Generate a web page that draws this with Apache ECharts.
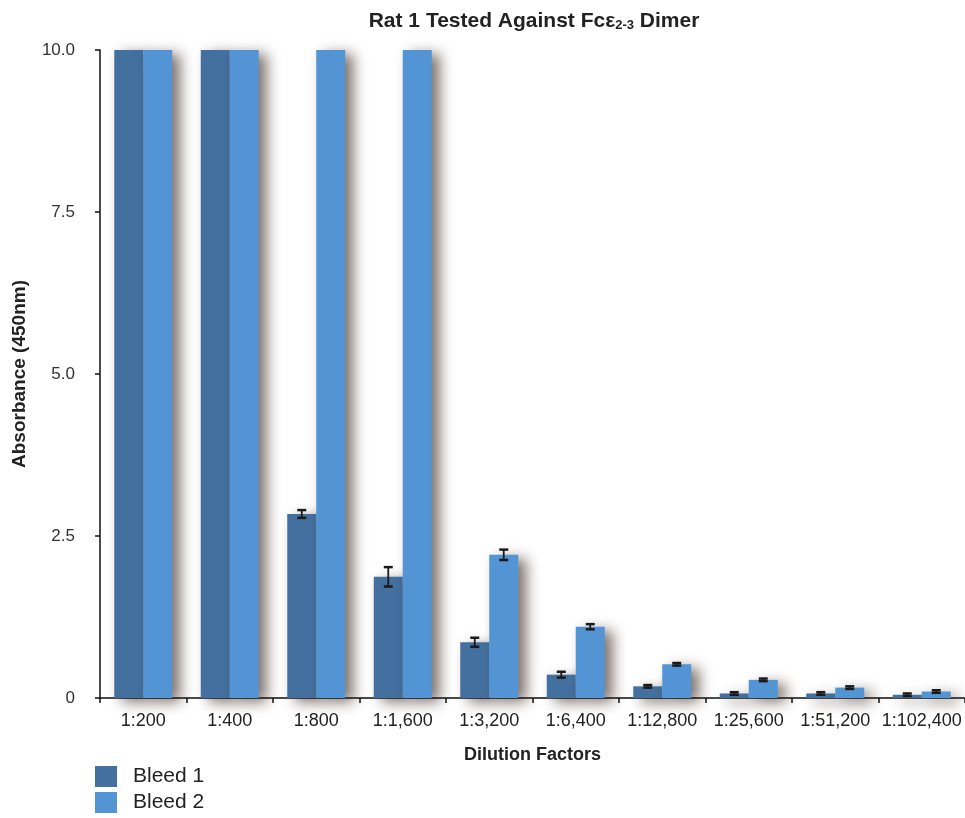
<!DOCTYPE html>
<html>
<head>
<meta charset="utf-8">
<script src="https://cdn.jsdelivr.net/npm/echarts@6/dist/echarts.min.js"></script>
<style>html,body{margin:0;padding:0;background:#fff}#c{width:965px;height:818px}</style>
</head>
<body>
<div id="c"></div>
<script>
var categories = ['1:200','1:400','1:800','1:1,600','1:3,200','1:6,400','1:12,800','1:25,600','1:51,200','1:102,400'];
var bleed1 = [10, 10, 2.84, 1.87, 0.86, 0.36, 0.18, 0.07, 0.07, 0.05];
var bleed2 = [10, 10, 10, 10, 2.21, 1.10, 0.52, 0.28, 0.16, 0.10];
var err1 = [0, 0, 0.06, 0.15, 0.07, 0.045, 0.02, 0.02, 0.02, 0.02];
var err2 = [0, 0, 0, 0, 0.08, 0.04, 0.02, 0.02, 0.02, 0.02];
var yTicks = [0, 2.5, 5, 7.5, 10];

var FONT = 'Liberation Sans, Arial, Helvetica, sans-serif';
var C1 = '#43709f', C2 = '#5294d4';
var GAP = 0.33;

function errSeries(vals, errs, side) {
  return {
    type: 'custom',
    z: 10,
    silent: true,
    data: vals.map(function (v, i) { return [i, v, errs[i]]; }),
    renderItem: function (params, api) {
      var i = api.value(0), v = api.value(1), e = api.value(2);
      if (!e) return null;
      var band = api.size([1, 0])[0];
      var bw = band * (1 - GAP) / 2;
      var c = api.coord([i, v]);
      var x = c[0] + side * bw / 2;
      var top = api.coord([i, v + e])[1];
      var bot = api.coord([i, v - e])[1];
      var hw = 4.5;
      var st = { stroke: '#1a1a1a', lineWidth: 2.5 };
      return { type: 'group', children: [
        { type: 'line', shape: { x1: x, y1: top, x2: x, y2: bot }, style: { stroke: '#1a1a1a', lineWidth: 1.8 } },
        { type: 'line', shape: { x1: x - hw, y1: top, x2: x + hw, y2: top }, style: st },
        { type: 'line', shape: { x1: x - hw, y1: bot, x2: x + hw, y2: bot }, style: st }
      ]};
    }
  };
}

var shadow = { shadowColor: 'rgba(40,20,10,0.6)', shadowBlur: 14, shadowOffsetX: 8, shadowOffsetY: 4 };

var chart = echarts.init(document.getElementById('c'));
chart.setOption({
  animation: false,
  textStyle: { fontFamily: FONT },
  title: {
    text: 'Rat 1 Tested Against Fc\u03b5{sub|2-3} Dimer',
    left: 529, top: 6, textAlign: 'center',
    textStyle: {
      fontFamily: FONT, fontSize: 21, fontWeight: 'bold', color: '#222',
      rich: { sub: { fontFamily: FONT, fontSize: 13, fontWeight: 'bold', color: '#222', verticalAlign: 'bottom', padding: [8, 0, 0, 0] } }
    }
  },
  legend: {
    orient: 'vertical', left: 95, top: 766, padding: 0, itemWidth: 22, itemHeight: 21, itemGap: 5,
    icon: 'rect',
    textStyle: { fontFamily: FONT, fontSize: 21, lineHeight: 21, color: '#222', padding: [0, 0, 0, 11] },
    data: ['Bleed 1', 'Bleed 2']
  },
  grid: { left: 100, right: 0, top: 50, bottom: 120, containLabel: false },
  xAxis: {
    type: 'category', data: categories,
    name: 'Dilution Factors', nameLocation: 'middle', nameGap: 48,
    nameTextStyle: { fontFamily: FONT, fontSize: 18, fontWeight: 'bold', color: '#222' },
    axisLine: { lineStyle: { color: '#111', width: 1.5 } },
    axisTick: { show: true, alignWithLabel: false, length: 5, lineStyle: { color: '#111', width: 1.5 } },
    axisLabel: { fontFamily: FONT, fontSize: 18, color: '#222', margin: 14, interval: 0 }
  },
  yAxis: {
    type: 'value', min: 0, max: 10, interval: 2.5,
    name: 'Absorbance (450nm)', nameLocation: 'middle', nameGap: 71,
    nameTextStyle: { fontFamily: FONT, fontSize: 19, fontWeight: 'bold', color: '#222' },
    axisLine: { show: true, lineStyle: { color: '#111', width: 1.5 } },
    axisTick: { show: true, length: 5, lineStyle: { color: '#111', width: 1.5 } },
    splitLine: { show: false },
    axisLabel: { fontFamily: FONT, fontSize: 17, color: '#333', margin: 25,
      formatter: function (v) { return v === 0 ? '0' : v.toFixed(1); } }
  },
  series: [
    { name: 'Bleed 1', type: 'bar', data: bleed1, barGap: 0, barCategoryGap: '33%',
      itemStyle: Object.assign({ color: C1 }, shadow) },
    { name: 'Bleed 2', type: 'bar', data: bleed2, barGap: 0, barCategoryGap: '33%',
      itemStyle: Object.assign({ color: C2 }, shadow) },
    errSeries(bleed1, err1, -1),
    errSeries(bleed2, err2, 1)
  ]
});
</script>
</body>
</html>
